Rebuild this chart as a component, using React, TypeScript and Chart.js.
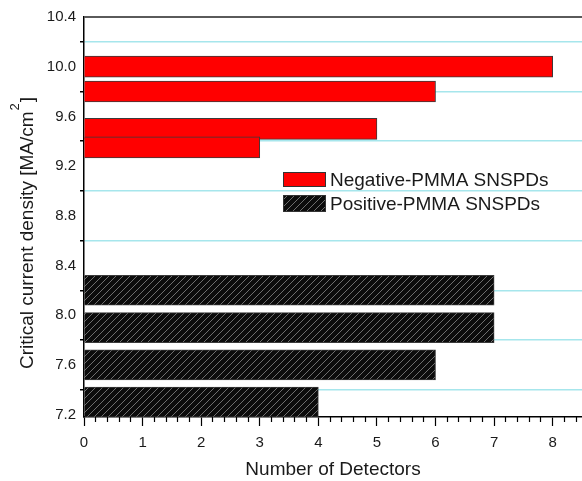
import { useEffect, useRef } from 'react';
import { Chart, registerables } from 'chart.js';

Chart.register(...registerables);

// ---- data ----
const negCenters = [10.0, 9.8, 9.5, 9.35];
const negCounts = [8, 6, 5, 3];
const posCenters = [8.2, 7.9, 7.6, 7.3];
const posCounts = [7, 7, 6, 4];
const yLabelTicks = [7.2, 7.6, 8.0, 8.4, 8.8, 9.2, 9.6, 10.0, 10.4];
const yMarkTicks = [7.4, 7.8, 8.2, 8.6, 9.0, 9.4, 9.8, 10.2];
const xMajorTicks = [0, 1, 2, 3, 4, 5, 6, 7, 8];
const xMinorTicks = [
  0.2, 0.4, 0.6, 0.8, 1.2, 1.4, 1.6, 1.8, 2.2, 2.4, 2.6, 2.8, 3.2, 3.4, 3.6, 3.8,
  4.2, 4.4, 4.6, 4.8, 5.2, 5.4, 5.6, 5.8, 6.2, 6.4, 6.6, 6.8, 7.2, 7.4, 7.6, 7.8,
  8.2, 8.4,
];
const legendLabels = ['Negative-PMMA SNSPDs', 'Positive-PMMA SNSPDs'];

const FONT = '"Liberation Sans", Arial, sans-serif';
const TEXT = '#1a1a1a';
const GRID = '#a6e6ec';

function makeHatch(): CanvasPattern | string {
  const c = document.createElement('canvas');
  c.width = 7;
  c.height = 7;
  const g = c.getContext('2d');
  if (!g) return '#111';
  g.fillStyle = '#0c0c0c';
  g.fillRect(0, 0, 7, 7);
  g.strokeStyle = '#6e6e6e';
  g.lineWidth = 1;
  g.beginPath();
  g.moveTo(-1, 8);
  g.lineTo(8, -1);
  g.moveTo(-1, 1);
  g.lineTo(1, -1);
  g.moveTo(6, 8);
  g.lineTo(8, 6);
  g.stroke();
  return g.createPattern(c, 'repeat') || '#111';
}

export default function App() {
  const ref = useRef<HTMLCanvasElement | null>(null);

  useEffect(() => {
    document.body.style.margin = '0';
    const canvas = ref.current;
    if (!canvas) return;
    const hatch = makeHatch();

    const legendPlugin = {
      id: 'customLegend',
      afterDraw(chart: any) {
        const ctx = chart.ctx;
        ctx.save();
        const bx = 283;
        const boxes = [
          { y: 172, h: 15, fill: '#ff0000' },
          { y: 195, h: 17, fill: hatch },
        ];
        boxes.forEach((b, i) => {
          ctx.fillStyle = b.fill;
          ctx.fillRect(bx, b.y, 43, b.h);
          ctx.strokeStyle = '#333';
          ctx.lineWidth = 1;
          ctx.strokeRect(bx + 0.5, b.y + 0.5, 42, b.h - 1);
          ctx.fillStyle = TEXT;
          ctx.font = `19px ${FONT}`;
          ctx.textBaseline = 'middle';
          ctx.textAlign = 'left';
          ctx.fillText(legendLabels[i], 330, b.y + b.h / 2 + 1);
        });
        ctx.restore();
      },
    };

    const yTitlePlugin = {
      id: 'yTitle',
      afterDraw(chart: any) {
        const ctx = chart.ctx;
        ctx.save();
        ctx.translate(28, 233);
        ctx.rotate(-Math.PI / 2);
        const main = 'Critical current density [MA/cm';
        const sup = '2';
        const end = ']';
        ctx.font = `19px ${FONT}`;
        const w1 = ctx.measureText(main).width;
        const w3 = ctx.measureText(end).width;
        ctx.font = `13px ${FONT}`;
        const w2 = ctx.measureText(sup).width;
        const total = w1 + w2 + 2 + w3;
        let x = -total / 2;
        ctx.fillStyle = TEXT;
        ctx.textBaseline = 'middle';
        ctx.textAlign = 'left';
        ctx.font = `19px ${FONT}`;
        ctx.fillText(main, x, 0);
        x += w1 + 1;
        ctx.font = `13px ${FONT}`;
        ctx.fillText(sup, x, -13);
        x += w2 + 1;
        ctx.font = `19px ${FONT}`;
        ctx.fillText(end, x, 0);
        ctx.restore();
      },
    };

    const yAllTicks = [...yLabelTicks, ...yMarkTicks].sort((a, b) => a - b);

    const chart = new Chart(canvas, {
      type: 'bar',
      data: {
        datasets: [
          {
            label: legendLabels[0],
            data: negCenters.map((c, i) => ({ y: c, x: negCounts[i] })),
            backgroundColor: '#ff0000',
            borderColor: '#3a3a3a',
            borderWidth: 1,
            barThickness: 21,
            grouped: false,
          } as any,
          {
            label: legendLabels[1],
            data: posCenters.map((c, i) => ({ y: c, x: posCounts[i] })),
            backgroundColor: hatch as any,
            borderColor: '#3a3a3a',
            borderWidth: 1,
            barThickness: 30,
            grouped: false,
          } as any,
        ],
      },
      options: {
        indexAxis: 'y',
        animation: false,
        responsive: false,
        layout: { padding: { top: 17, left: 0, right: 0, bottom: 0 } },
        plugins: {
          legend: { display: false },
          tooltip: { enabled: false },
        },
        scales: {
          x: {
            type: 'linear',
            position: 'bottom',
            weight: 1,
            min: 0,
            max: 8.5,
            offset: false,
            afterBuildTicks: (s: any) => {
              s.ticks = xMajorTicks.map((v) => ({ value: v }));
            },
            afterFit: (s: any) => {
              s.height = 64;
            },
            grid: {
              offset: false,
              drawOnChartArea: false,
              tickLength: 9,
              tickColor: '#000',
              tickWidth: 1.2,
            },
            border: { color: '#000', width: 1.5 },
            ticks: {
              font: { family: FONT, size: 15 },
              color: TEXT,
              padding: 8,
              maxRotation: 0,
              autoSkip: false,
              callback: (v: any) => String(v),
            },
            title: {
              display: true,
              text: 'Number of Detectors',
              font: { family: FONT, size: 19 },
              color: TEXT,
              padding: 0,
            },
          },
          x2: {
            type: 'linear',
            position: 'bottom',
            weight: 0,
            min: 0,
            max: 8.5,
            offset: false,
            afterBuildTicks: (s: any) => {
              s.ticks = xMinorTicks.map((v) => ({ value: v }));
            },
            afterFit: (s: any) => {
              s.height = 0;
            },
            grid: {
              offset: false,
              drawOnChartArea: false,
              tickLength: 5,
              tickColor: '#000',
              tickWidth: 1.2,
            },
            border: { display: false },
            ticks: { display: false },
          },
          y: {
            type: 'linear',
            position: 'left',
            min: 7.18,
            max: 10.4,
            offset: false,
            afterBuildTicks: (s: any) => {
              s.ticks = yAllTicks.map((v) => ({ value: v }));
            },
            afterFit: (s: any) => {
              s.width = 84;
            },
            grid: {
              offset: false,
              color: (c: any) => {
                const v = c.tick ? c.tick.value : NaN;
                if (v === 10.4) return '#5a5a5a';
                return yMarkTicks.includes(v) ? GRID : 'rgba(0,0,0,0)';
              },
              lineWidth: (c: any) => (c.tick && c.tick.value === 10.4 ? 2 : 1.5),
              tickColor: (c: any) =>
                c.tick && yMarkTicks.includes(c.tick.value) ? '#000' : 'rgba(0,0,0,0)',
              tickLength: 4,
              tickWidth: 1.5,
            },
            border: { color: '#000', width: 1.5 },
            ticks: {
              font: { family: FONT, size: 15 },
              color: TEXT,
              padding: 4,
              autoSkip: false,
              callback: (v: any) => (yLabelTicks.includes(v) ? Number(v).toFixed(1) : ''),
            },
          },
        },
      },
      plugins: [legendPlugin, yTitlePlugin],
    } as any);

    return () => chart.destroy();
  }, []);

  return (
    <div style={{ width: 582, height: 481 }}>
      <canvas ref={ref} width={582} height={481} style={{ display: 'block' }} />
    </div>
  );
}
